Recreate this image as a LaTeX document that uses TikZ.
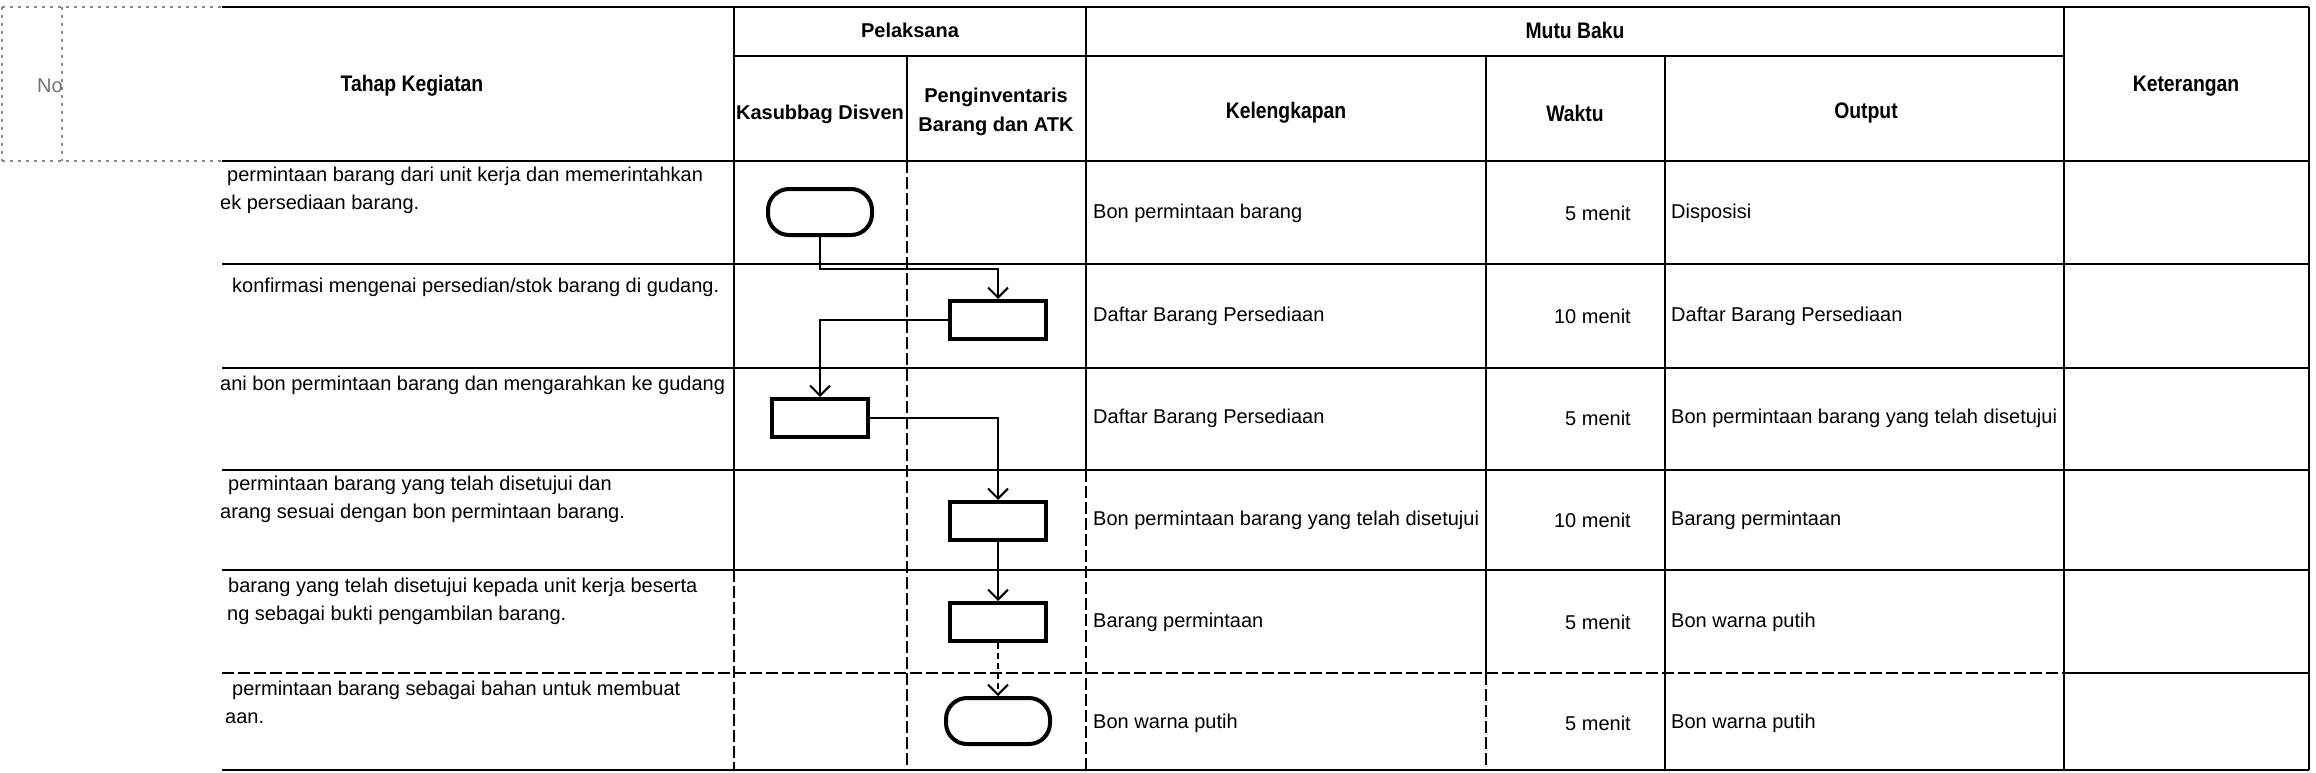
\documentclass[tikz,border=0pt]{standalone}
\usepackage{fontspec}
\setmainfont{Liberation Sans}
\newfontfamily\narrowbold[FakeStretch=0.86]{Liberation Sans Bold}
\usetikzlibrary{arrows.meta}
\begin{document}
\begin{tikzpicture}[x=1pt,y=-1pt,
  tline/.style={line width=2.5pt,black},
  dline/.style={line width=2.5pt,black,dash pattern=on 12pt off 4pt},
  faint/.style={line width=2pt,black!45,dash pattern=on 3pt off 5pt},
  hdr/.style={font=\fontsize{20}{29}\selectfont\bfseries,align=center,inner sep=0pt},
  nhdr/.style={font=\fontsize{22.5}{29}\selectfont\narrowbold,align=center,inner sep=0pt},
  txt/.style={font=\fontsize{20}{27}\selectfont,inner sep=0pt},
  procbox/.style={draw,line width=4pt,minimum width=96pt,minimum height=38pt,inner sep=0pt},
  termbox/.style={draw,line width=4pt,rounded corners=21pt,minimum width=104pt,minimum height=46pt,inner sep=0pt},
  flow/.style={line width=2pt,-{Straight Barb[length=10pt,width=20pt,line width=2pt]}},
]
\useasboundingbox[fill=white] (0,0) rectangle (2316,772);

% ---------- table grid ----------
% faint left part (No column)
\draw[faint] (2,7) -- (222,7);
\draw[faint] (2,161) -- (222,161);
\draw[faint] (2,7) -- (2,161);
\draw[faint] (62,7) -- (62,161);
% horizontal lines
\draw[tline] (222,7) -- (2309,7);
\draw[tline] (734,56) -- (2064,56);
\foreach \yy in {161,264,368,470,570} {\draw[tline] (222,\yy) -- (2309,\yy);}
\draw[dline] (222,673) -- (2064,673);
\draw[tline] (2064,673) -- (2309,673);
\draw[tline] (222,770) -- (2309,770);
% vertical lines
\draw[tline] (734,7) -- (734,570);
\draw[dline] (734,570) -- (734,770);
\draw[tline] (907,56) -- (907,161);
\draw[dline] (907,161) -- (907,770);
\draw[tline] (1086,7) -- (1086,470);
\draw[dline] (1086,470) -- (1086,770);
\draw[tline] (1486,56) -- (1486,673);
\draw[dline] (1486,673) -- (1486,770);
\draw[tline] (1665,56) -- (1665,770);
\draw[tline] (2064,7) -- (2064,770);
\draw[tline] (2309,7) -- (2309,770);

% ---------- header ----------
\node[txt,text=black!55] (hno) at (50,86) {No};
\node[nhdr] (htahap) at (412,86) {Tahap Kegiatan};
\node[hdr] (hpel) at (910,30) {Pelaksana};
\node[hdr] (hkas) at (820,114) {Kasubbag Disven};
\node[hdr] (hpeng) at (996,112) {Penginventaris\\Barang dan ATK};
\node[nhdr] (hmutu) at (1575,30) {Mutu Baku};
\node[nhdr] (hkel) at (1286,113) {Kelengkapan};
\node[nhdr] (hwak) at (1575,113) {Waktu};
\node[nhdr] (hout) at (1866,113) {Output};
\node[nhdr] (hket) at (2186,86) {Keterangan};

% ---------- Tahap Kegiatan ----------
\node[txt,anchor=base west] (r1a) at (227,181) {permintaan barang dari unit kerja dan memerintahkan};
\node[txt,anchor=base west] (r1b) at (220,209) {ek persediaan barang.};
\node[txt,anchor=base west] (r2a) at (232,292) {konfirmasi mengenai persedian/stok barang di gudang.};
\node[txt,anchor=base west] (r3a) at (220,390) {ani bon permintaan barang dan mengarahkan ke gudang};
\node[txt,anchor=base west] (r4a) at (228,490) {permintaan barang yang telah disetujui dan};
\node[txt,anchor=base west] (r4b) at (220,518) {arang sesuai dengan bon permintaan barang.};
\node[txt,anchor=base west] (r5a) at (228,592) {barang yang telah disetujui kepada unit kerja beserta};
\node[txt,anchor=base west] (r5b) at (227,620) {ng sebagai bukti pengambilan barang.};
\node[txt,anchor=base west] (r6a) at (232,695) {permintaan barang sebagai bahan untuk membuat};
\node[txt,anchor=base west] (r6b) at (225,723) {aan.};

% ---------- Kelengkapan / Waktu / Output ----------
\node[txt,anchor=west] (k1) at (1093,213) {Bon permintaan barang};
\node[txt,anchor=west] (k2) at (1093,316) {Daftar Barang Persediaan};
\node[txt,anchor=west] (k3) at (1093,418) {Daftar Barang Persediaan};
\node[txt,anchor=west] (k4) at (1093,520) {Bon permintaan barang yang telah disetujui};
\node[txt,anchor=west] (k5) at (1093,622) {Barang permintaan};
\node[txt,anchor=west] (k6) at (1093,723) {Bon warna putih};

\node[txt,anchor=east] (w1) at (1631,213) {5 menit};
\node[txt,anchor=east] (w2) at (1631,316) {10 menit};
\node[txt,anchor=east] (w3) at (1631,418) {5 menit};
\node[txt,anchor=east] (w4) at (1631,520) {10 menit};
\node[txt,anchor=east] (w5) at (1631,622) {5 menit};
\node[txt,anchor=east] (w6) at (1631,723) {5 menit};

\node[txt,anchor=west] (o1) at (1671,213) {Disposisi};
\node[txt,anchor=west] (o2) at (1671,316) {Daftar Barang Persediaan};
\node[txt,anchor=west] (o3) at (1671,418) {Bon permintaan barang yang telah disetujui};
\node[txt,anchor=west] (o4) at (1671,520) {Barang permintaan};
\node[txt,anchor=west] (o5) at (1671,622) {Bon warna putih};
\node[txt,anchor=west] (o6) at (1671,723) {Bon warna putih};

% ---------- flowchart ----------
\node[termbox] (t1) at (820,212) {};
\node[procbox] (b2) at (998,320) {};
\node[procbox] (b3) at (820,418) {};
\node[procbox] (b4) at (998,521) {};
\node[procbox] (b5) at (998,622) {};
\node[termbox] (t6) at (998,721) {};

\coordinate (e1) at (998,269);
\draw[flow] (t1.south) |- (e1) -- (b2.north);
\draw[flow] (b2.west) -| (b3.north);
\draw[flow] (b3.east) -| (b4.north);
\draw[flow] (b4.south) -- (b5.north);
\draw[flow,dash pattern=on 6pt off 4pt] (b5.south) -- (t6.north);
\end{tikzpicture}
\end{document}
